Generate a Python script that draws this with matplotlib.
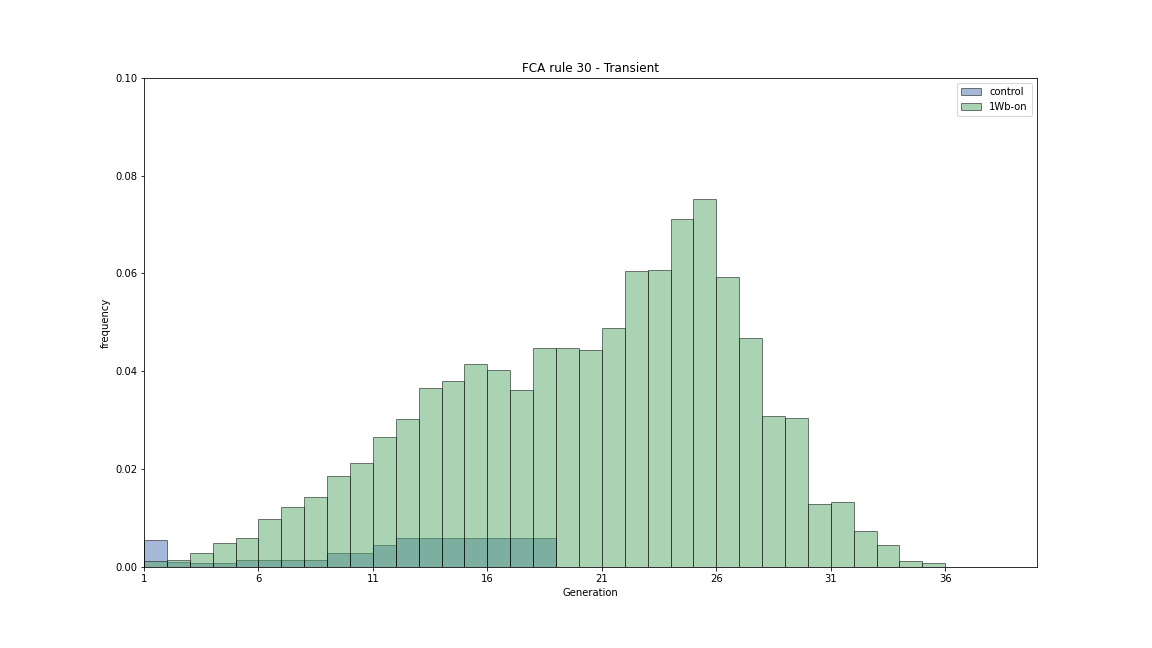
import matplotlib
matplotlib.use("Agg")
import matplotlib.pyplot as plt
import numpy as np

# bin left edges (generation), width 1
control_bins = list(range(1, 19))
control_freq = [0.0055, 0.0010, 0.00075, 0.00075, 0.0014, 0.0014, 0.0014, 0.0014,
                0.0028, 0.0028, 0.0044, 0.0059, 0.0059, 0.0059, 0.0059, 0.0059,
                0.0059, 0.0059]

wb_bins = list(range(1, 36))
wb_freq = [0.0012, 0.0014, 0.0028, 0.0050, 0.0059, 0.0098, 0.0122, 0.0143,
           0.0186, 0.0212, 0.0265, 0.0302, 0.0365, 0.0380, 0.0415, 0.0402,
           0.0361, 0.0447, 0.0447, 0.0443, 0.0488, 0.0605, 0.0607, 0.0711,
           0.0752, 0.0592, 0.0468, 0.0308, 0.0304, 0.0128, 0.0132, 0.0073,
           0.0044, 0.0012, 0.0008]

fig = plt.figure(figsize=(16, 9), dpi=72)
ax = fig.add_axes([0.125, 0.125, 0.775, 0.755])

ax.bar(control_bins, control_freq, width=1, align="edge", color="#4C72B0",
       edgecolor="black", alpha=0.5, label="control")
ax.bar(wb_bins, wb_freq, width=1, align="edge", color="#55A868",
       edgecolor="black", alpha=0.5, label="1Wb-on")

ax.set_xlim(1, 40)
ax.set_ylim(0, 0.1)
ax.set_xticks(np.arange(1, 37, 5))
ax.set_yticks(np.arange(0, 0.101, 0.02))
ax.set_xlabel("Generation")
ax.set_ylabel("frequency")
ax.set_title("FCA rule 30 - Transient")
ax.legend(loc="upper right")

fig.savefig("out.png", dpi=72)
